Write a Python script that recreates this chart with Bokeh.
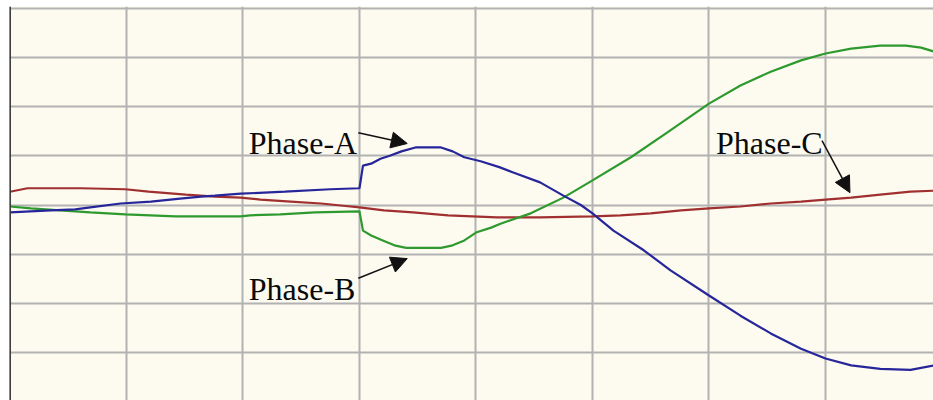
from bokeh.plotting import figure
from bokeh.models import Span, Arrow, NormalHead, FixedTicker, Label
from bokeh.embed import file_html
from bokeh.resources import INLINE

# time in grid divisions, amplitude in grid divisions
phase_a_t = [0.00, 0.35, 0.56, 0.69, 0.95, 1.21, 1.46, 1.64, 1.76, 1.98, 2.36, 2.75, 3.00,
             3.03, 3.10, 3.18, 3.26, 3.36, 3.48, 3.70, 3.80, 3.90, 4.04, 4.20, 4.32, 4.55,
             4.75, 4.90, 5.00, 5.18, 5.44, 5.67, 6.00, 6.27, 6.53, 6.79, 7.00, 7.22, 7.47,
             7.73, 7.93]
phase_a_v = [-0.15, -0.11, -0.09, -0.05, 0.03, 0.07, 0.13, 0.17, 0.19, 0.23, 0.27, 0.32, 0.34,
             0.80, 0.84, 0.94, 1.00, 1.09, 1.17, 1.17, 1.09, 0.97, 0.89, 0.77, 0.66, 0.46,
             0.19, 0.00, -0.17, -0.52, -0.92, -1.33, -1.84, -2.25, -2.61, -2.92, -3.12, -3.26,
             -3.33, -3.35, -3.26]

phase_b_t = [0.00, 0.18, 0.43, 0.69, 0.99, 1.42, 1.98, 2.06, 2.32, 2.62, 3.00,
             3.03, 3.10, 3.20, 3.30, 3.40, 3.70, 3.80, 3.90, 4.00, 4.13, 4.21, 4.47, 4.75,
             5.00, 5.33, 5.64, 6.00, 6.27, 6.53, 6.79, 7.00, 7.22, 7.47,
             7.69, 7.82, 7.93]
phase_b_v = [-0.03, -0.07, -0.11, -0.15, -0.19, -0.23, -0.23, -0.21, -0.19, -0.15, -0.13,
             -0.52, -0.62, -0.72, -0.82, -0.87, -0.87, -0.82, -0.72, -0.56, -0.46, -0.38, -0.17, 0.15,
             0.50, 0.97, 1.47, 2.06, 2.43, 2.71, 2.94, 3.08, 3.18, 3.24,
             3.24, 3.20, 3.12]

phase_c_t = [0.00, 0.15, 0.61, 0.99, 1.19, 1.51, 1.76, 1.98, 2.15, 2.41, 2.67, 2.84, 3.00,
             3.21, 3.46, 3.76, 4.18, 4.55, 5.00, 5.24, 5.50, 5.76, 6.00, 6.27, 6.53,
             6.79, 7.00, 7.22, 7.47, 7.73, 7.93]
phase_c_v = [0.27, 0.34, 0.34, 0.32, 0.27, 0.21, 0.17, 0.15, 0.11, 0.07, 0.03, -0.01, -0.05,
             -0.11, -0.15, -0.21, -0.25, -0.25, -0.23, -0.21, -0.17, -0.11, -0.07, -0.03, 0.03,
             0.07, 0.11, 0.15, 0.21, 0.27, 0.29]

grid_x = [0, 1, 2, 3, 4, 5, 6, 7, 8]
grid_y = [-4, -3, -2, -1, 0, 1, 2, 3, 4]

p = figure(width=933, height=400, output_backend="svg", toolbar_location=None,
           x_range=(-0.004, 7.927), y_range=(-3.974, 4.035),
           min_border_left=9, min_border_top=6, min_border_right=0, min_border_bottom=0)
p.axis.visible = False
p.outline_line_color = None
p.background_fill_color = "#fdfaf0"
p.border_fill_color = "white"
p.xgrid.ticker = FixedTicker(ticks=grid_x)
p.ygrid.ticker = FixedTicker(ticks=grid_y)
p.grid.grid_line_color = "#b2b2b2"
p.grid.grid_line_width = 2

p.add_layout(Span(location=0, dimension="height", line_color="#3a3a3a", line_width=2))

p.line(phase_c_t, phase_c_v, line_color="#a03030", line_width=2.2)
p.line(phase_b_t, phase_b_v, line_color="#2e9a2e", line_width=2.2)
p.line(phase_a_t, phase_a_v, line_color="#26269a", line_width=2.2)

font = "Liberation Serif"
for txt, x, y in [("Phase-A", 2.05, 1.27), ("Phase-B", 2.05, -1.70), ("Phase-C", 6.06, 1.27)]:
    p.add_layout(Label(x=x, y=y, text=txt, text_font=font, text_font_size="32px",
                       text_color="#0a0a0a", text_baseline="alphabetic", text_align="left"))

for (x0, y0, x1, y1) in [(2.99, 1.47, 3.41, 1.25), (2.99, -1.49, 3.41, -1.09), (6.97, 1.31, 7.21, 0.25)]:
    p.add_layout(Arrow(x_start=x0, y_start=y0, x_end=x1, y_end=y1, line_color="#111111",
                       line_width=1.5,
                       end=NormalHead(size=16, fill_color="#111111", line_color="#111111")))

open("out.html", "w").write(file_html(p, INLINE))
